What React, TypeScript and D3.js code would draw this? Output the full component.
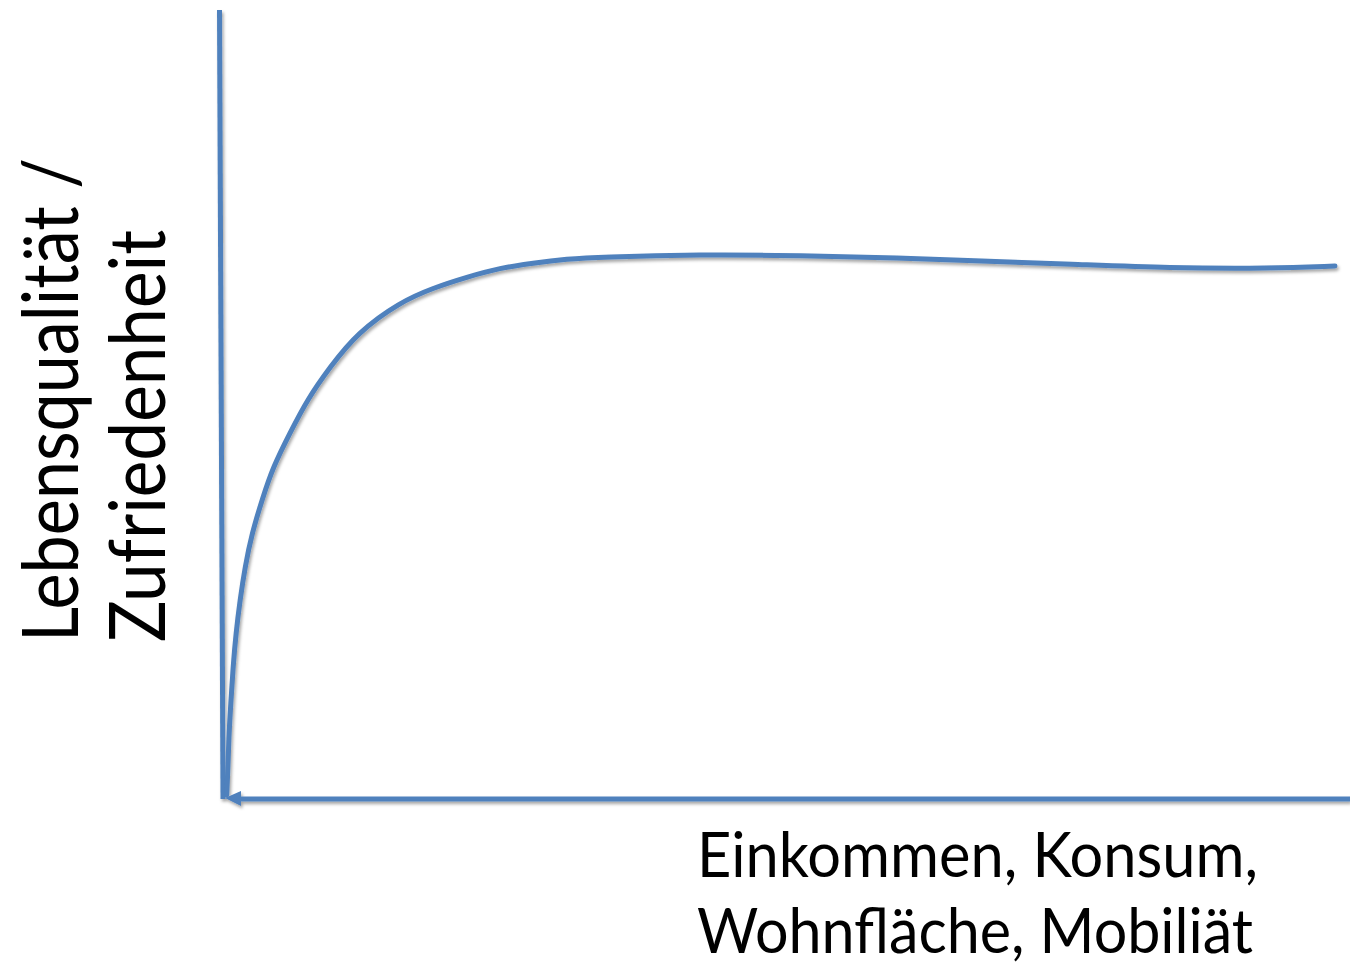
import { useEffect, useRef } from "react";
import * as d3 from "d3";

// curve, x = Einkommen (0-100), y = Lebensqualität (0-100)
const incomeValues = [
  0.42, 0.53, 0.62, 0.8, 0.98, 1.24, 1.6, 2.04, 2.66, 3.55, 4.52, 6.03, 7.54,
  9.57, 12.0, 15.78, 18.71, 21.72, 24.65, 27.57, 30.59, 33.51, 42.38, 51.24,
  60.11, 67.2, 75.18, 84.04, 92.91, 98.67,
];
const qualityValues = [
  0.51, 4.06, 8.37, 12.55, 16.73, 21.04, 25.22, 29.4, 33.71, 37.9, 42.08, 46.39,
  50.57, 54.75, 59.1, 62.99, 64.77, 66.16, 67.3, 67.93, 68.44, 68.69, 69.01,
  68.88, 68.57, 68.19, 67.81, 67.3, 67.24, 67.55,
];
const yLabelLines = ["Lebensqualität /", "Zufriedenheit"];
const xLabelLines = ["Einkommen, Konsum,", "Wohnfläche, Mobiliät"];

const W = 1350;
const H = 968;
const BLUE = "#4F81BD";

const App = () => {
  const ref = useRef<SVGSVGElement>(null);

  useEffect(() => {
    const svg = d3.select(ref.current);
    svg.selectAll("*").remove();

    const x = d3.scaleLinear().domain([0, 100]).range([222, 1350]);
    const y = d3.scaleLinear().domain([0, 100]).range([799, 10]);

    const defs = svg.append("defs");
    defs
      .append("filter")
      .attr("id", "shadow")
      .attr("x", "-20%")
      .attr("y", "-20%")
      .attr("width", "140%")
      .attr("height", "140%")
      .append("feDropShadow")
      .attr("dx", 1.5)
      .attr("dy", 2.5)
      .attr("stdDeviation", 1.6)
      .attr("flood-color", "#000")
      .attr("flood-opacity", 0.35);

    const g = svg.append("g").attr("filter", "url(#shadow)");

    // vertical axis (slightly tilted like the hand drawn original)
    g.append("line")
      .attr("x1", x(0) - 2.5)
      .attr("y1", y(100))
      .attr("x2", x(0) + 1)
      .attr("y2", y(0))
      .attr("stroke", BLUE)
      .attr("stroke-width", 5);

    // horizontal axis with arrow pointing to the origin
    g.append("line")
      .attr("x1", x(0) + 14)
      .attr("y1", y(0))
      .attr("x2", x(100))
      .attr("y2", y(0))
      .attr("stroke", BLUE)
      .attr("stroke-width", 5);

    g.append("path")
      .attr(
        "d",
        `M${x(0) + 3},${y(0) - 1} L${x(0) + 19},${y(0) - 8} L${x(0) + 19},${y(0) + 7} Z`
      )
      .attr("fill", BLUE);

    const data = incomeValues.map((v, i) => [v, qualityValues[i]] as [number, number]);
    const line = d3
      .line<[number, number]>()
      .x((d) => x(d[0]))
      .y((d) => y(d[1]))
      .curve(d3.curveBasis);

    g.append("path")
      .datum(data)
      .attr("d", line)
      .attr("fill", "none")
      .attr("stroke", BLUE)
      .attr("stroke-width", 5)
      .attr("stroke-linecap", "round");

    // y label, rotated
    const yl = svg
      .append("text")
      .attr("transform", "translate(0,642) rotate(-90)")
      .attr("font-family", "Lato, 'Open Sans', sans-serif")
      .attr("font-size", 78)
      .attr("fill", "#000");
    const yLens = [484, 412];
    const yBase = [78, 165];
    yLabelLines.forEach((t, i) => {
      yl.append("tspan")
        .attr("x", 0)
        .attr("y", yBase[i])
        .attr("textLength", yLens[i])
        .attr("lengthAdjust", "spacingAndGlyphs")
        .text(t);
    });

    // x label
    const xl = svg
      .append("text")
      .attr("font-family", "Lato, 'Open Sans', sans-serif")
      .attr("font-size", 62)
      .attr("fill", "#000");
    const xLens = [561, 556];
    const xBase = [877, 953];
    xLabelLines.forEach((t, i) => {
      xl.append("tspan")
        .attr("x", 697)
        .attr("y", xBase[i])
        .attr("textLength", xLens[i])
        .attr("lengthAdjust", "spacingAndGlyphs")
        .text(t);
    });
  }, []);

  return (
    <svg
      ref={ref}
      width={W}
      height={H}
      style={{ position: "absolute", left: 0, top: 0, background: "#fff" }}
    ></svg>
  );
};

export default App;
